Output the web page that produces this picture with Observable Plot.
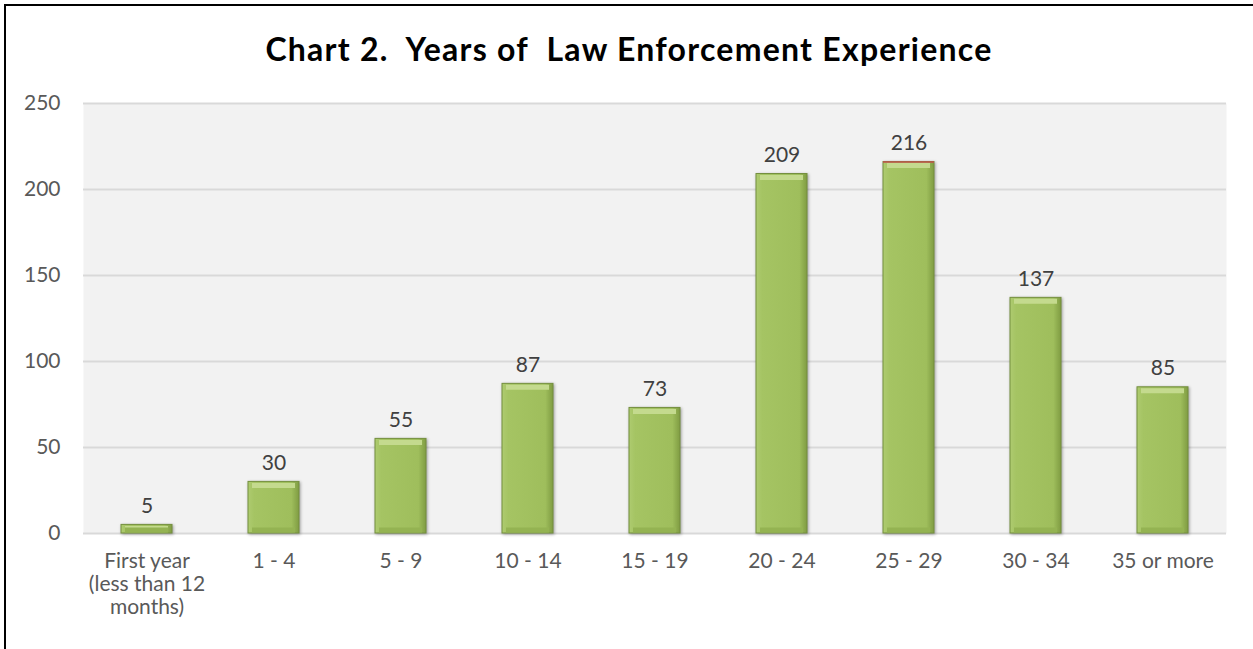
<!DOCTYPE html>
<html>
<head>
<meta charset="utf-8">
<script src="https://cdn.jsdelivr.net/npm/d3@7"></script>
<script src="https://cdn.jsdelivr.net/npm/@observablehq/plot@0.6"></script>
<style>
  html, body { margin: 0; padding: 0; background: #fff; overflow: hidden; }
  #wrap { position: relative; width: 1253px; height: 649px; }
  #frameLine { position: absolute; left: 4px; top: 4px; width: 1300px; height: 700px;
    border-left: 2px solid #000; border-top: 2px solid #000; box-sizing: border-box; }
  #title { position: absolute; left: 5px; right: 0; top: 31px; text-align: center;
    font-family: Lato, "Open Sans", sans-serif; font-weight: bold; font-size: 32px;
    letter-spacing: 1.25px; white-space: pre; color: #000; line-height: 36px; }
  #chart { position: absolute; left: 0; top: 90px; }
  svg g[aria-label="bar"] rect { filter: drop-shadow(1px 1px 1.5px rgba(0,0,0,0.35)); }
</style>
</head>
<body>
<div id="wrap">
  <div id="frameLine"></div>
  <div id="title"></div>
  <div id="chart"></div>
</div>
<script>
const titleText = "Chart 2.  Years of  Law Enforcement Experience";
const categories = ["First year\n(less than 12\nmonths)", "1 - 4", "5 - 9", "10 - 14", "15 - 19", "20 - 24", "25 - 29", "30 - 34", "35 or more"];
const values = [5, 30, 55, 87, 73, 209, 216, 137, 85];
const yTicks = [0, 50, 100, 150, 200, 250];

const data = categories.map((c, i) => ({cat: c, value: values[i]}));
const maxValue = d3.max(values);

document.getElementById("title").textContent = titleText;

const plot = Plot.plot({
  width: 1253,
  height: 559,
  marginTop: 13,
  marginBottom: 116,
  marginLeft: 83,
  marginRight: 27,
  style: {fontFamily: "Lato, 'Open Sans', sans-serif", fontSize: "21px", color: "#595959", background: "transparent"},
  x: {type: "band", domain: categories, paddingInner: 0.6, paddingOuter: 0.3, axis: null},
  y: {domain: [0, 250], ticks: yTicks, tickSize: 0, tickPadding: 23, label: null},
  marks: [
    Plot.frame({fill: "#f2f2f2", stroke: "none"}),
    Plot.gridY(yTicks, {stroke: "#d9d9d9", strokeOpacity: 1, strokeWidth: 2}),
    Plot.barY(data, {x: "cat", y: "value", fill: "url(#barGrad)", stroke: "#748f3e", strokeWidth: 1}),
    Plot.tickY(data, {x: "cat", y: "value", dy: 3.5, stroke: "#c4da8e", strokeWidth: 5, insetLeft: 4, insetRight: 4}),
    Plot.tickY(data, {x: "cat", y: 0, dy: -3.5, stroke: "#94b352", strokeWidth: 5, insetLeft: 4, insetRight: 4}),
    Plot.tickY(data, {filter: d => d.value === maxValue, x: "cat", y: "value", stroke: "#c0504d", strokeWidth: 1.5}),
    Plot.text(data, {x: "cat", y: "value", text: d => String(d.value), dy: -19, fill: "#404040", fontSize: 21}),
    Plot.text(data, {x: "cat", y: 0, text: "cat", dy: 18, lineAnchor: "top", lineHeight: 1.1, fill: "#595959", fontSize: 21})
  ]
});

d3.select(plot).insert("defs", ":first-child").html(`
  <linearGradient id="barGrad" x1="0" y1="0" x2="1" y2="0">
    <stop offset="0" stop-color="#aecb70"/>
    <stop offset="0.12" stop-color="#a5c463"/>
    <stop offset="0.85" stop-color="#9fbe5c"/>
    <stop offset="1" stop-color="#7f9c42"/>
  </linearGradient>`);

document.getElementById("chart").appendChild(plot);
</script>
</body>
</html>
